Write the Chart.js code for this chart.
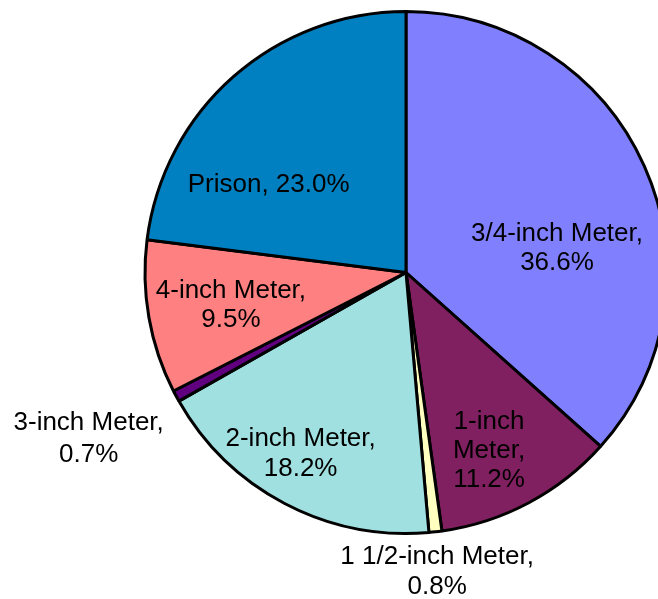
<!DOCTYPE html>
<html>
<head>
<meta charset="utf-8">
<script src="https://cdn.jsdelivr.net/npm/chart.js@4.4.1/dist/chart.umd.min.js"></script>
<style>
  html, body { margin: 0; padding: 0; background: #fff; }
  #wrap { width: 658px; height: 599px; overflow: hidden; position: relative; }
  canvas { position: absolute; left: 0; top: 0; }
</style>
</head>
<body>
<div id="wrap"><canvas id="c" width="812" height="599"></canvas></div>
<script>
// Data
const categories = ["3/4-inch Meter", "1-inch Meter", "1 1/2-inch Meter", "2-inch Meter", "3-inch Meter", "4-inch Meter", "Prison"];
const shares = [36.6, 11.2, 0.8, 18.2, 0.7, 9.5, 23.0];

// Styles
const sliceColors = ["#8080FF", "#802060", "#FFFFC0", "#A0E0E0", "#600080", "#FF8080", "#0080C0"];
// label text lines per slice
const labelLines = [
  ["3/4-inch Meter,", "36.6%"],
  ["1-inch", "Meter,", "11.2%"],
  ["1 1/2-inch Meter,", "0.8%"],
  ["2-inch Meter,", "18.2%"],
  ["3-inch Meter,", "0.7%"],
  ["4-inch Meter,", "9.5%"],
  ["Prison, 23.0%"]
];
// label placement: [angle offset from slice middle (deg), radius fraction, line height]
const labelPlace = [
  [14.4, 0.587, 29],
  [2.8, 0.745, 29],
  [0.5, 1.145, 30],
  [2.8, 0.795, 30],
  [0.9, 1.369, 32],
  [0.0, 0.681, 29.4],
  [-15.4, 0.629, 29]
];
const FONT_SIZE = 26;

const labelPlugin = {
  id: 'sliceLabels',
  afterDatasetsDraw(chart) {
    const ctx = chart.ctx;
    const meta = chart.getDatasetMeta(0);
    ctx.save();
    ctx.fillStyle = '#000';
    ctx.font = FONT_SIZE + 'px "Liberation Sans", Arial, sans-serif';
    ctx.textAlign = 'center';
    ctx.textBaseline = 'alphabetic';
    meta.data.forEach((arc, i) => {
      const p = arc.getProps(['x', 'y', 'startAngle', 'endAngle', 'outerRadius'], true);
      const a = (p.startAngle + p.endAngle) / 2 + labelPlace[i][0] * Math.PI / 180;
      const r = p.outerRadius * labelPlace[i][1];
      const cx = p.x + Math.cos(a) * r;
      const cy = p.y + Math.sin(a) * r;
      const lines = labelLines[i];
      const L = labelPlace[i][2];
      const n = lines.length;
      const base1 = cy - ((n - 1) * L - 0.716 * FONT_SIZE) / 2;
      lines.forEach((t, k) => ctx.fillText(t, cx, base1 + k * L));
    });
    ctx.restore();
  }
};

new Chart(document.getElementById('c'), {
  type: 'pie',
  data: {
    labels: categories,
    datasets: [{
      data: shares,
      backgroundColor: sliceColors,
      borderColor: '#000',
      borderWidth: 3
    }]
  },
  options: {
    responsive: false,
    devicePixelRatio: 1,
    animation: false,
    radius: 261,
    layout: { padding: { top: 0, left: 0, right: 0, bottom: 54 } },
    plugins: {
      legend: { display: false },
      tooltip: { enabled: false }
    }
  },
  plugins: [labelPlugin]
});
</script>
</body>
</html>
